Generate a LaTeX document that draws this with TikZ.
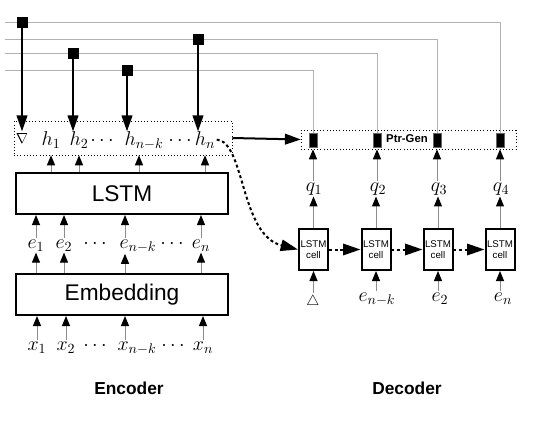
\RequirePackage{fix-cm}
\documentclass[tikz,border=0pt]{standalone}
\usepackage{fontspec}
\newfontfamily\helv{Liberation Sans}
\usetikzlibrary{arrows.meta, positioning}

\begin{document}
\begin{tikzpicture}
        [x=0.75pt, y=-0.75pt,
        lab/.style={anchor=base, inner sep=1pt, font=\fontsize{15}{18}\selectfont},
        small/.style={anchor=base, inner sep=1pt, font=\fontsize{11}{13}\selectfont},
        layer/.style={draw, line width=1.5pt, minimum width=159pt, minimum height=30.75pt, inner sep=0pt, font=\helv\fontsize{17}{20}\selectfont},
        cell/.style={draw, line width=1.5pt, minimum width=21.75pt, minimum height=30.75pt, inner sep=0pt, align=center, font=\helv\fontsize{7.3}{8.5}\selectfont},
        group/.style={draw, dotted, thin, inner sep=0pt},
        blk/.style={fill=black, minimum size=8.25pt, inner sep=0pt},
        pblk/.style={fill=black, draw=black!60, thin, minimum width=6pt, minimum height=10.5pt, inner sep=0pt},
        title/.style={font=\helv\bfseries\fontsize{13}{15}\selectfont},
        up/.style={black!45, line width=0.75pt, -{Triangle[length=7.5pt, width=6pt, color=black]}},
        attn/.style={black!30, line width=0.75pt},
        heavy/.style={line width=1.5pt, -{Triangle[length=12pt, width=8pt]}},
        recur/.style={line width=1.5pt, dash pattern=on 2.2pt off 2pt, -{Triangle[length=13pt, width=8.5pt]}}]

        \useasboundingbox (0,0) rectangle (539,425);

        % encoder layers
        \node[layer] (lstm) at (122,193.5) {LSTM};
        \node[layer] (emb) at (122,294.5) {Embedding};
        \node[group, minimum width=163.5pt, minimum height=25.5pt] (hbox) at (123,138) {};

        % inputs
        \node[lab] (x1) at (37,350) {$x_1$};
        \node[lab] (x2) at (66,350) {$x_2$};
        \node[lab] (xd1) at (95,350) {$\cdots$};
        \node[lab] (xnk) at (137,350) {$x_{n-k}$};
        \node[lab] (xd2) at (173,350) {$\cdots$};
        \node[lab] (xn) at (203,350) {$x_n$};

        % embeddings
        \node[lab] (e1) at (36,248) {$e_1$};
        \node[lab] (e2) at (64,248) {$e_2$};
        \node[lab] (ed1) at (95,248) {$\cdots$};
        \node[lab] (enk) at (138,248) {$e_{n-k}$};
        \node[lab] (ed2) at (172,248) {$\cdots$};
        \node[lab] (en) at (201,248) {$e_n$};

        % hidden states
        \node[small] (grad) at (22,143) {$\nabla$};
        \node[lab] (h1) at (51,145) {$h_1$};
        \node[lab] (h2) at (79,145) {$h_2$};
        \node[lab] (hd1) at (102,145) {$\cdots$};
        \node[lab] (hnk) at (144,145) {$h_{n-k}$};
        \node[lab] (hd2) at (180,145) {$\cdots$};
        \node[lab] (hn) at (205,145) {$h_n$};

        % pointer lines (drawn before the blocks)
        \coordinate (l1) at (5,22);
        \coordinate (l2) at (5,39);
        \coordinate (l3) at (5,53);
        \coordinate (l4) at (5,70);

        % decoder
        \node[group, minimum width=161pt, minimum height=14.25pt] (pbox) at (408.5,139.5) {};
        \node[pblk] (p1) at (313,140) {};
        \node[pblk] (p2) at (377,140) {};
        \node[pblk] (p3) at (437,140) {};
        \node[pblk] (p4) at (500,140) {};
        \node[font=\helv\bfseries\fontsize{8.5}{10}\selectfont] (pg) at (407,139) {Ptr-Gen};

        \draw[attn] (l1) -| (p4.north);
        \draw[attn] (l2) -| (p3.north);
        \draw[attn] (l3) -| (p2.north);
        \draw[attn] (l4) -| (p1.north);

        \node[blk] (s1) at (22,22) {};
        \node[blk] (s2) at (73,53) {};
        \node[blk] (s3) at (127,70) {};
        \node[blk] (s4) at (198,39) {};

        \node[cell] (c1) at (313.5,249.5) {LSTM\\cell};
        \node[cell] (c2) at (376,249.5) {LSTM\\cell};
        \node[cell] (c3) at (438,249.5) {LSTM\\cell};
        \node[cell] (c4) at (500,249.5) {LSTM\\cell};

        \node[lab] (q1) at (314,191) {$q_1$};
        \node[lab] (q2) at (378,191) {$q_2$};
        \node[lab] (q3) at (439,191) {$q_3$};
        \node[lab] (q4) at (501,191) {$q_4$};

        \node[small] (d1) at (313,305) {$\triangle$};
        \node[lab] (d2) at (377,301) {$e_{n-k}$};
        \node[lab] (d3) at (440,301) {$e_2$};
        \node[lab] (d4) at (503,301) {$e_n$};

        \node[title] (enc) at (129,388) {Encoder};
        \node[title] (dec) at (407,388) {Decoder};

        % attention arrows
        \draw[heavy] (s1.south) -- (s1.south |- grad.north);
        \draw[heavy] (s2.south) -- (s2.south |- grad.north);
        \draw[heavy] (s3.south) -- (s3.south |- grad.north);
        \draw[heavy] (s4.south) -- (s4.south |- grad.north);

        % encoder arrows
        \draw[up] (x1.north) -- (x1.north |- emb.south);
        \draw[up] (x2.north) -- (x2.north |- emb.south);
        \draw[up] ([xshift=-9pt]xnk.north) -- ([xshift=-9pt]xnk.north |- emb.south);
        \draw[up] (xn.north) -- (xn.north |- emb.south);

        \draw[up] (e1.south |- emb.north) -- (e1.south);
        \draw[up] (e2.south |- emb.north) -- (e2.south);
        \draw[up] ([xshift=-9.75pt]enk.south |- emb.north) -- ([xshift=-9.75pt]enk.south);
        \draw[up] (en.south |- emb.north) -- (en.south);

        \draw[up] (e1.north) -- (e1.north |- lstm.south);
        \draw[up] (e2.north) -- (e2.north |- lstm.south);
        \draw[up] ([xshift=-9.75pt]enk.north) -- ([xshift=-9.75pt]enk.north |- lstm.south);
        \draw[up] (en.north) -- (en.north |- lstm.south);

        \draw[up] (h1 |- lstm.north) -- (h1 |- hbox.south);
        \draw[up] (h2 |- lstm.north) -- (h2 |- hbox.south);
        \draw[up] ([xshift=-3.75pt]hnk.south |- lstm.north) -- ([xshift=-3.75pt]hnk.south |- hbox.south);
        \draw[up] (hn |- lstm.north) -- (hn |- hbox.south);

        % decoder arrows
        \draw[heavy] (hbox.east) -- (pbox.west);
        \draw[recur] (hn.east) .. controls (245,142) and (240,235) .. (c1.west);
        \draw[recur] (c1) -- (c2);
        \draw[recur] (c2) -- (c3);
        \draw[recur] (c3) -- (c4);

        \draw[up] (c1.north) -- (c1.north |- q1.south);
        \draw[up] (c2.north) -- (c2.north |- q2.south);
        \draw[up] (c3.north) -- (c3.north |- q3.south);
        \draw[up] (c4.north) -- (c4.north |- q4.south);

        \draw[up] (p1 |- q1.north) -- (p1 |- pbox.south);
        \draw[up] (p2 |- q2.north) -- (p2 |- pbox.south);
        \draw[up] (p3 |- q3.north) -- (p3 |- pbox.south);
        \draw[up] (p4 |- q4.north) -- (p4 |- pbox.south);

        \draw[up] (c1.south |- d1.north) -- (c1.south);
        \draw[up] (c2.south |- d2.north) -- (c2.south);
        \draw[up] (c3.south |- d3.north) -- (c3.south);
        \draw[up] (c4.south |- d4.north) -- (c4.south);

\end{tikzpicture}
\end{document}
